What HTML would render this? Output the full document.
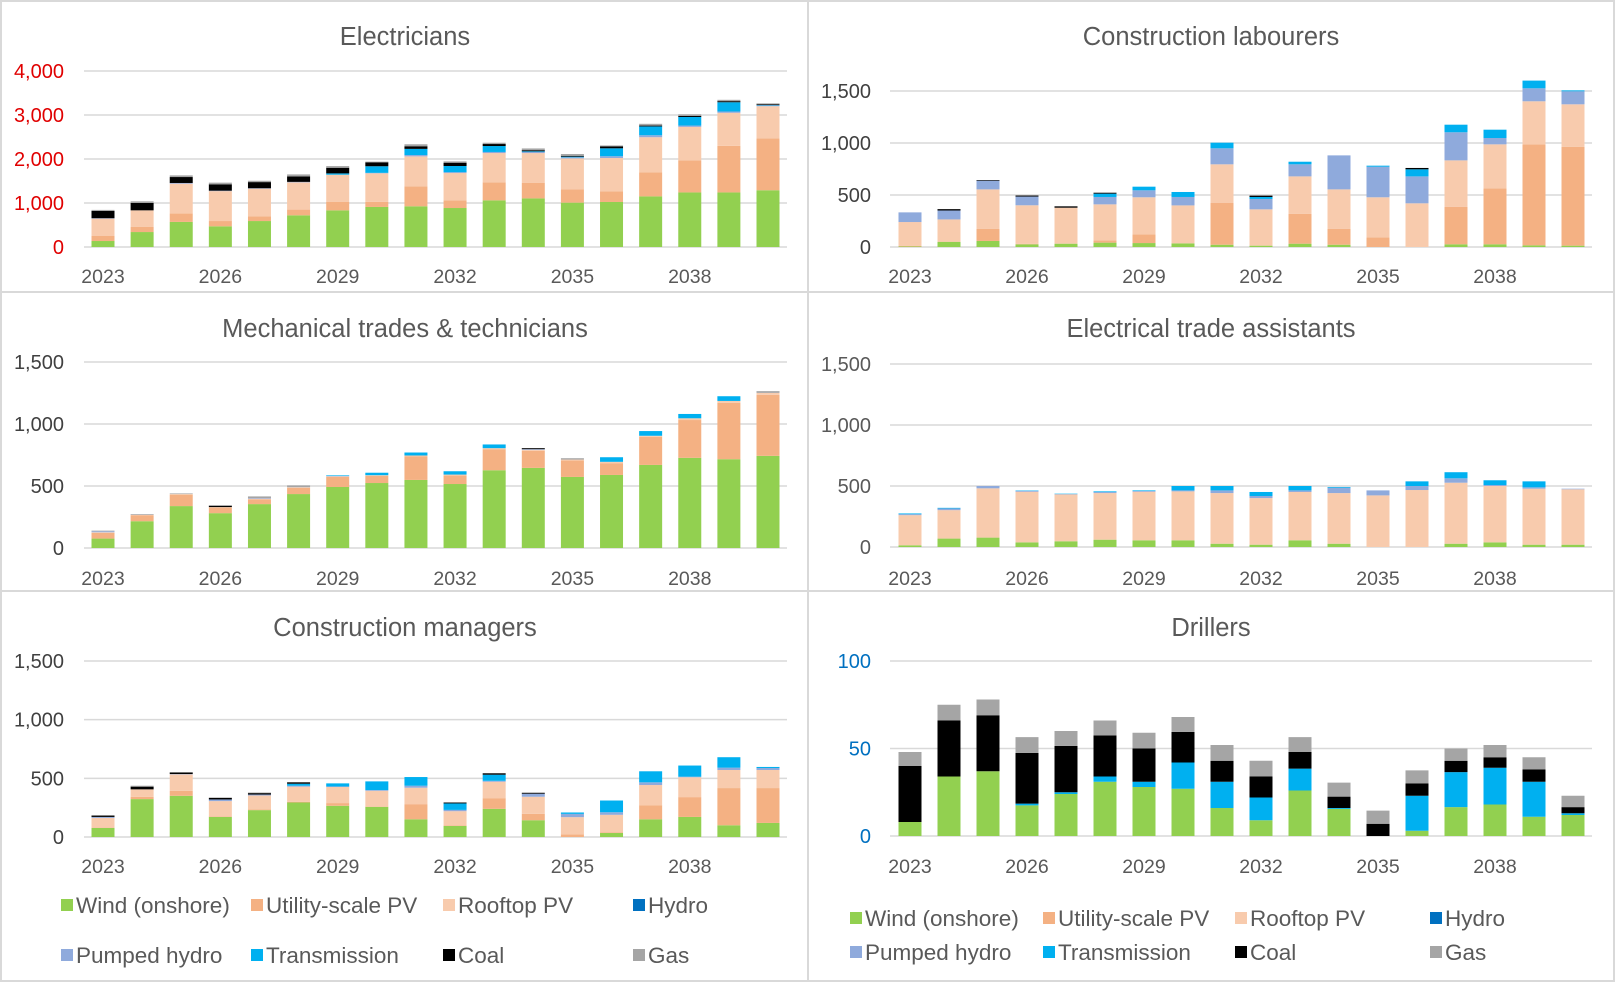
<!DOCTYPE html>
<html><head><meta charset="utf-8"><style>
html,body{margin:0;padding:0;background:#fff;}
svg{display:block;font-family:"Liberation Sans",sans-serif;}
</style></head><body>
<svg id="chart" width="1616" height="983" viewBox="0 0 1616 983" xmlns="http://www.w3.org/2000/svg">
<rect x="1" y="1" width="1613" height="980" fill="#fff" stroke="#D9D9D9" stroke-width="2"/>
<line x1="808" y1="1" x2="808" y2="981" stroke="#D9D9D9" stroke-width="2"/>
<line x1="1" y1="292" x2="1615" y2="292" stroke="#D9D9D9" stroke-width="2"/>
<line x1="1" y1="591" x2="1615" y2="591" stroke="#D9D9D9" stroke-width="2"/>
</svg>
<script>
const years = [2023,2024,2025,2026,2027,2028,2029,2030,2031,2032,2033,2034,2035,2036,2037,2038,2039,2040];
const seriesNames = ["Wind (onshore)","Utility-scale PV","Rooftop PV","Hydro","Pumped hydro","Transmission","Coal","Gas"];
const seriesColors = ["#92D050","#F4B183","#F8CBAD","#0070C0","#8FAADC","#00B0F0","#000000","#A5A5A5"];

// Electricians
const elecWind  = [136,340,570,470,590,720,833,910,925,886,1060,1105,1008,1023,1150,1240,1240,1290];
const elecUtil  = [114,115,190,120,105,130,190,115,455,175,410,350,300,240,545,730,1060,1180];
const elecRoof  = [394,378,680,680,630,620,620,650,680,620,665,680,705,760,800,760,750,730];
const elecHydro = [0,0,0,0,0,0,0,0,0,0,0,0,0,0,0,0,0,0];
const elecPH    = [10,0,15,10,10,10,0,10,30,20,25,25,25,40,45,30,30,15];
const elecTrans = [0,0,0,0,0,0,30,150,140,140,135,15,15,180,200,195,210,10];
const elecCoal  = [166,167,135,145,140,125,128,90,60,75,45,25,20,45,20,25,25,20];
const elecGas   = [23,38,38,38,30,45,38,15,45,30,30,40,40,20,40,35,30,20];

// Construction labourers
const labWind  = [5,50,58,26,32,42,38,35,22,13,32,22,0,0,26,26,16,13];
const labUtil  = [5,5,118,5,0,22,84,0,401,0,288,154,93,0,359,538,971,949];
const labRoof  = [230,210,378,370,346,346,356,365,372,349,359,378,385,420,448,423,414,410];
const labHydro = [0,0,0,0,0,0,0,0,0,0,0,0,0,0,0,0,0,0];
const labPH    = [93,86,84,84,0,71,67,81,154,100,116,327,294,259,270,61,125,125];
const labTrans = [0,0,0,0,0,32,35,48,54,19,25,0,10,68,73,80,74,9];
const labCoal  = [0,13,6,10,13,9,0,0,0,13,0,0,0,13,0,0,0,0];
const labGas   = [0,0,0,0,0,0,0,0,0,0,0,0,0,0,0,0,0,0];

// Mechanical trades & technicians
const mechWind  = [76,216,338,281,354,435,492,524,549,516,627,646,573,589,670,727,716,743];
const mechUtil  = [46,46,92,45,38,50,81,57,189,68,170,138,132,95,227,305,454,492];
const mechRoof  = [5,5,5,4,6,5,5,6,8,8,8,8,8,11,8,14,16,16];
const mechHydro = [0,0,0,0,0,0,0,0,0,0,0,0,0,0,0,0,0,0];
const mechPH    = [8,0,0,0,5,0,3,0,0,0,0,5,0,0,0,0,0,0];
const mechTrans = [0,0,0,0,0,0,5,20,24,27,30,0,0,37,38,35,38,0];
const mechCoal  = [0,0,0,10,0,0,0,0,0,0,0,8,0,0,0,0,0,0];
const mechGas   = [5,6,5,6,13,15,0,0,0,0,0,0,11,0,0,0,0,14];

// Electrical trade assistants
const etaWind  = [14,69,77,38,47,60,55,55,27,19,55,27,0,0,27,38,19,19];
const etaUtil  = [0,0,0,0,0,0,0,0,0,0,0,0,0,0,0,0,0,0];
const etaRoof  = [247,233,404,415,384,382,398,401,415,382,396,415,423,467,500,462,459,454];
const etaHydro = [0,0,0,0,0,0,0,0,0,0,0,0,0,0,0,0,0,0];
const etaPH    = [8,14,19,8,3,8,6,8,22,17,13,44,41,33,36,8,11,5];
const etaTrans = [6,5,0,3,3,6,5,36,36,33,36,6,0,38,50,39,49,0];
const etaCoal  = [0,0,0,0,0,0,0,0,0,0,0,0,0,0,0,0,0,0];
const etaGas   = [0,0,0,0,0,0,0,0,0,0,0,0,0,0,0,0,0,0];

// Construction managers
const cmWind  = [77,323,351,171,229,294,266,257,151,94,240,143,0,34,151,171,100,120];
const cmUtil  = [3,20,43,5,5,5,23,5,129,5,91,54,23,5,120,169,317,297];
const cmRoof  = [83,63,140,130,120,130,137,132,140,121,140,146,146,150,172,169,154,154];
const cmHydro = [0,0,0,0,0,0,0,0,0,0,0,0,0,0,0,0,0,0];
const cmPH    = [8,0,3,14,8,8,5,6,17,11,8,26,28,22,23,5,20,17];
const cmTrans = [0,0,0,0,0,17,26,74,74,55,52,0,12,100,94,95,89,9];
const cmCoal  = [12,23,12,14,12,12,0,0,0,8,12,8,0,0,0,0,0,0];
const cmGas   = [0,8,5,0,5,0,0,0,0,0,0,0,0,0,0,0,0,0];

// Drillers
const drWind  = [8,34,37,17.5,24,31,28,27,16,9,26,15.5,0,3,16.5,18,11,12];
const drUtil  = [0,0,0,0,0,0,0,0,0,0,0,0,0,0,0,0,0,0];
const drRoof  = [0,0,0,0,0,0,0,0,0,0,0,0,0,0,0,0,0,0];
const drHydro = [0,0,0,0,0,0,0,0,0,0,0,0,0,0,0,0,0,0];
const drPH    = [0,0,0,0,0,0,0,0,0,0,0,0,0,0,0,0,0,0];
const drTrans = [0,0,0,1,1,3,3,15,15,13,12.5,0.5,0,20,20,21,20,1];
const drCoal  = [32,32,32,29,26.5,23.5,19,17.5,12,12,9.5,6.5,7,7,6.5,6,7,3.5];
const drGas   = [8,9,9,9,8.5,8.5,9,8.5,9,9,8.5,8,7.5,7.5,7,7,7,6.5];

const elecTicks = [0,1000,2000,3000,4000];
const k1500Ticks = [0,500,1000,1500];
const drTicks = [0,50,100];
const yearTicks = [2023,2026,2029,2032,2035,2038];

const NS = "http://www.w3.org/2000/svg";
const svg = document.getElementById("chart");
function mk(tag, attrs, parent) {
  const e = document.createElementNS(NS, tag);
  for (const k in attrs) e.setAttribute(k, attrs[k]);
  (parent || svg).appendChild(e);
  return e;
}
function fmt(v){ return v.toLocaleString("en-US"); }

const panels = [
  {title:"Electricians", key:"electricians", tx:405, ty:45, x0:84, x1:787, b0:103, b1:768, y0:247, yTop:71, vTop:4000, ticks:elecTicks, tickColor:"#E00000", labelR:64, yearY:283, series:[elecWind,elecUtil,elecRoof,elecHydro,elecPH,elecTrans,elecCoal,elecGas]},
  {title:"Construction labourers", key:"construction-labourers", tx:1211, ty:45, x0:890, x1:1592, b0:910, b1:1573, y0:247, yTop:91, vTop:1500, ticks:k1500Ticks, tickColor:"#404040", labelR:871, yearY:283, series:[labWind,labUtil,labRoof,labHydro,labPH,labTrans,labCoal,labGas]},
  {title:"Mechanical trades & technicians", key:"mechanical-trades", tx:405, ty:337, x0:84, x1:787, b0:103, b1:768, y0:548, yTop:362, vTop:1500, ticks:k1500Ticks, tickColor:"#404040", labelR:64, yearY:585, series:[mechWind,mechUtil,mechRoof,mechHydro,mechPH,mechTrans,mechCoal,mechGas]},
  {title:"Electrical trade assistants", key:"electrical-trade-assistants", tx:1211, ty:337, x0:890, x1:1592, b0:910, b1:1573, y0:547, yTop:364, vTop:1500, ticks:k1500Ticks, tickColor:"#595959", labelR:871, yearY:585, series:[etaWind,etaUtil,etaRoof,etaHydro,etaPH,etaTrans,etaCoal,etaGas]},
  {title:"Construction managers", key:"construction-managers", tx:405, ty:636, x0:84, x1:787, b0:103, b1:768, y0:837, yTop:661, vTop:1500, ticks:k1500Ticks, tickColor:"#404040", labelR:64, yearY:873, series:[cmWind,cmUtil,cmRoof,cmHydro,cmPH,cmTrans,cmCoal,cmGas]},
  {title:"Drillers", key:"drillers", tx:1211, ty:636, x0:890, x1:1592, b0:910, b1:1573, y0:836, yTop:661, vTop:100, ticks:drTicks, tickColor:"#0070C0", labelR:871, yearY:873, series:[drWind,drUtil,drRoof,drHydro,drPH,drTrans,drCoal,drGas]}
];

panels.forEach(p => {
  const g = mk("g", {});
  
  
  const yScale = v => p.y0 - (v / p.vTop) * (p.y0 - p.yTop);
  const step = (p.b1 - p.b0) / (years.length - 1);
  const xScale = i => p.b0 + i * step;
  const t = mk("text", {x:p.tx, y:p.ty, "text-anchor":"middle", "font-size":"25.5", fill:"#595959"}, g);
  t.textContent = p.title;
  
  
  p.ticks.forEach(v => {
    const y = yScale(v);
    const gl = mk("line", {x1:p.x0, x2:p.x1, y1:y, y2:y, stroke:"#D9D9D9", "stroke-width":"1.5"}, g);
    
    
    const tl = mk("text", {x:p.labelR, y:y+7, "text-anchor":"end", "font-size":"20", fill:p.tickColor}, g);
    tl.textContent = fmt(v);
    
    
  });
  yearTicks.forEach(yr => {
    const i = years.indexOf(yr);
    const xl = mk("text", {x:xScale(i), y:p.yearY, "text-anchor":"middle", "font-size":"19.5", fill:"#595959"}, g);
    xl.textContent = yr;
    
    
  });
  years.forEach((yr, i) => {
    let cum = 0;
    p.series.forEach((arr, s) => {
      const v = arr[i];
      if (!v) return;
      const yTopPx = yScale(cum + v), yBot = yScale(cum);
      cum += v;
      const r = mk("rect", {x:xScale(i) - 11.5, y:yTopPx, width:23, height:Math.max(0, yBot - yTopPx), fill:seriesColors[s]}, g);
      
      
    });
  });
});

function legend(xs, rows, key) {
  const g = mk("g", {});
  
  
  seriesNames.forEach((n, i) => {
    const col = i % 4, row = Math.floor(i / 4);
    const x = xs[col], y = rows[row];
    const sq = mk("rect", {x:x, y:y-6, width:12, height:12, fill:seriesColors[i]}, g);
    
    
    const tx = mk("text", {x:x+15, y:y+8, "font-size":"22.5", fill:"#595959"}, g);
    tx.textContent = n;
    
    
  });
}
legend([61, 251, 443, 633], [905, 955], 'legend-left');
legend([850, 1043, 1235, 1430], [918, 952], 'legend-right');
</script>
</body></html>
